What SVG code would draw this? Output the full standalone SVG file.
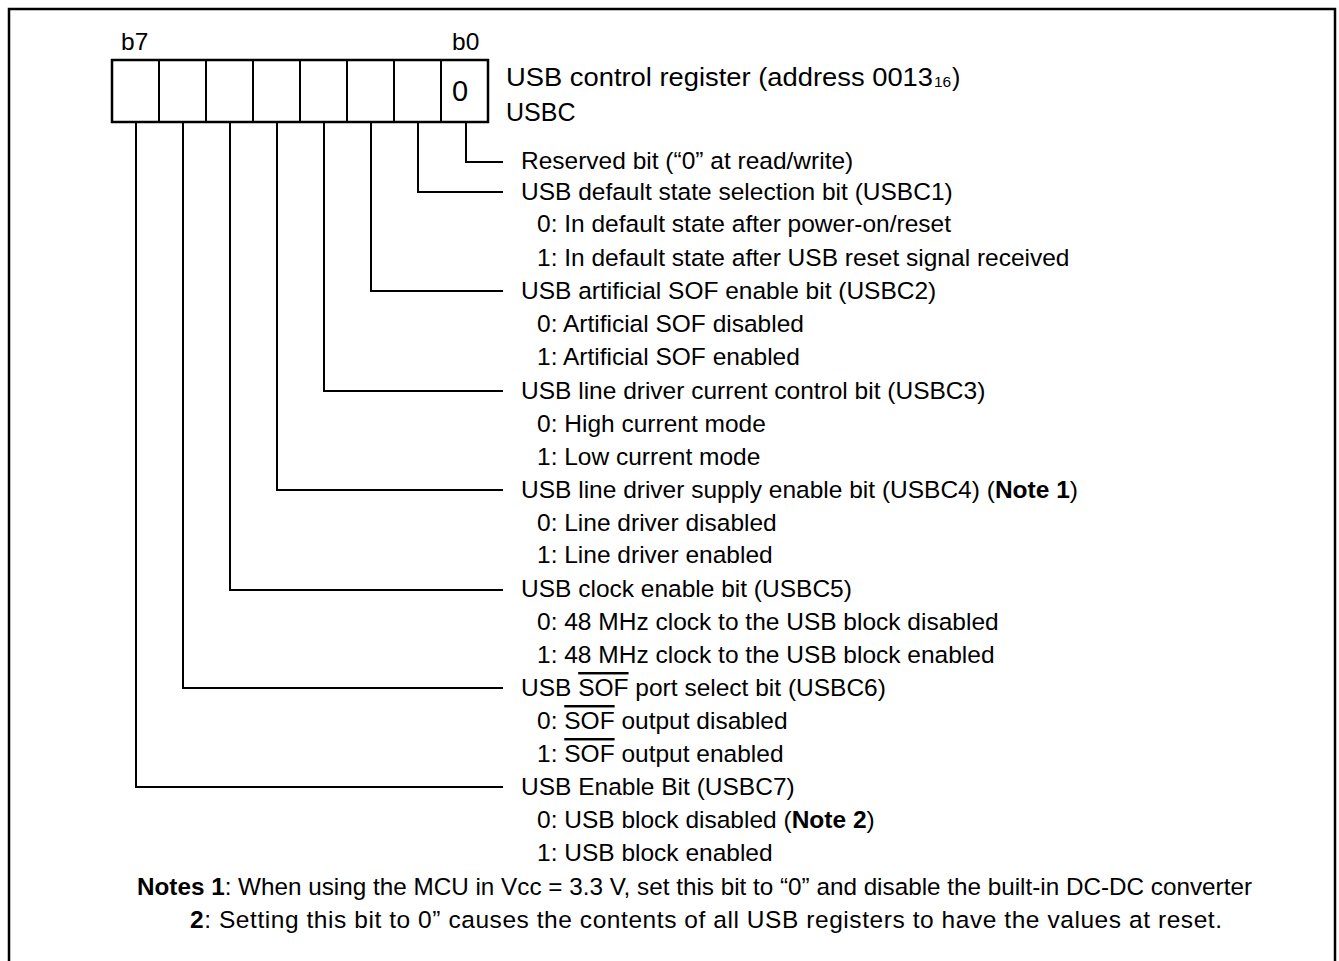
<svg xmlns="http://www.w3.org/2000/svg" width="1339" height="961" viewBox="0 0 1339 961">
<style>
text{font-family:"Liberation Sans",Arial,sans-serif;font-size:24.5px;fill:#000}
.b{font-weight:bold}
.ov{text-decoration:overline}
.ln{fill:none;stroke:#000;stroke-width:2}
.cell{fill:#fff;stroke:#000;stroke-width:2.5}
</style>
<rect x="9" y="9" width="1326" height="1010" fill="#fff" stroke="#000" stroke-width="2.5"/>
<g id="register">
<rect class="cell" x="112" y="60" width="376" height="62"/>
<path class="ln" d="M159 60V122M206 60V122M253 60V122M300 60V122M347 60V122M394 60V122M441 60V122" stroke-width="2.5"/>
<text x="121" y="50">b7</text>
<text x="452" y="50">b0</text>
<text x="460" y="101" text-anchor="middle" style="font-size:29px">0</text>
<text x="506" y="86" style="font-size:25px" textLength="427" lengthAdjust="spacingAndGlyphs">USB control register (address 0013</text>
<text x="934" y="87" style="font-size:15.5px">16</text>
<text x="952" y="86" style="font-size:25px">)</text>
<text x="506" y="121" style="font-size:25px">USBC</text>
</g>
<g id="connectors">
<path class="ln" d="M466 122V162H503"/>
<path class="ln" d="M418 122V192H503"/>
<path class="ln" d="M371 122V291H503"/>
<path class="ln" d="M324 122V391H503"/>
<path class="ln" d="M277 122V490H503"/>
<path class="ln" d="M230 122V590H503"/>
<path class="ln" d="M183 122V688H503"/>
<path class="ln" d="M136 122V787H503"/>
</g>
<g id="bit0"><text x="521" y="169">Reserved bit (“0” at read/write)</text></g>
<g id="bit1">
<text x="521" y="200">USB default state selection bit (USBC1)</text>
<text x="537" y="232">0: In default state after power-on/reset</text>
<text x="537" y="266">1: In default state after USB reset signal received</text>
</g>
<g id="bit2">
<text x="521" y="299">USB artificial SOF enable bit (USBC2)</text>
<text x="537" y="332">0: Artificial SOF disabled</text>
<text x="537" y="365">1: Artificial SOF enabled</text>
</g>
<g id="bit3">
<text x="521" y="399">USB line driver current control bit (USBC3)</text>
<text x="537" y="432">0: High current mode</text>
<text x="537" y="465">1: Low current mode</text>
</g>
<g id="bit4">
<text x="521" y="498">USB line driver supply enable bit (USBC4) (<tspan class="b">Note 1</tspan>)</text>
<text x="537" y="531">0: Line driver disabled</text>
<text x="537" y="563">1: Line driver enabled</text>
</g>
<g id="bit5">
<text x="521" y="597">USB clock enable bit (USBC5)</text>
<text x="537" y="630">0: 48 MHz clock to the USB block disabled</text>
<text x="537" y="663">1: 48 MHz clock to the USB block enabled</text>
</g>
<g id="bit6">
<text x="521" y="696">USB <tspan class="ov">SOF</tspan> port select bit (USBC6)</text>
<text x="537" y="729">0: <tspan class="ov">SOF</tspan> output disabled</text>
<text x="537" y="762">1: <tspan class="ov">SOF</tspan> output enabled</text>
</g>
<g id="bit7">
<text x="521" y="795">USB Enable Bit (USBC7)</text>
<text x="537" y="828">0: USB block disabled (<tspan class="b">Note 2</tspan>)</text>
<text x="537" y="861">1: USB block enabled</text>
</g>
<g id="notes">
<text x="137" y="895" textLength="1115" lengthAdjust="spacingAndGlyphs"><tspan class="b">Notes 1</tspan>: When using the MCU in Vcc = 3.3 V, set this bit to “0” and disable the built-in DC-DC converter</text>
<text x="190" y="928" textLength="1032" lengthAdjust="spacing"><tspan class="b">2</tspan>: Setting this bit to 0” causes the contents of all USB registers to have the values at reset.</text>
</g>
</svg>
